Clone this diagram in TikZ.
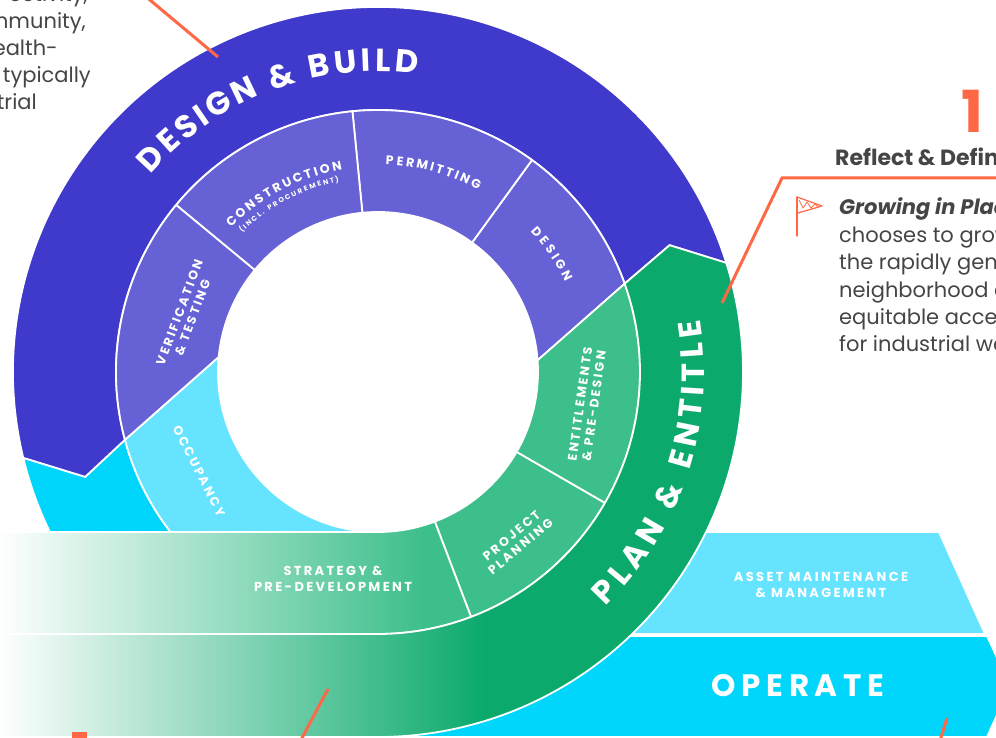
\documentclass[tikz,border=0pt]{standalone}
\usepackage{fontspec}
\setmainfont{Poppins}
\newfontfamily\trackfont[LetterSpace=18]{Poppins}

\definecolor{buildblue}{HTML}{3F3ACB}
\definecolor{buildlight}{HTML}{6662D6}
\definecolor{operatecyan}{HTML}{00D6FB}
\definecolor{operatelight}{HTML}{66E4FF}
\definecolor{plangreen}{HTML}{0BAA6C}
\definecolor{planlight}{HTML}{3DBF8B}
\definecolor{callout}{HTML}{FF6845}
\definecolor{bodygray}{HTML}{454545}

\pgfdeclarehorizontalshading{planfade}{100bp}{color(0bp)=(white); color(25bp)=(white); color(57bp)=(plangreen); color(100bp)=(plangreen)}
\pgfdeclarehorizontalshading{strategyfade}{100bp}{color(0bp)=(white); color(25bp)=(white); color(70bp)=(planlight); color(100bp)=(planlight)}

\tikzset{
  ringpart/.style={draw=white, line width=1.8pt},
  bigletter/.style={text=white, font=\bfseries\fontsize{32}{32}\selectfont, inner sep=0pt, text height=22.4pt, text depth=0pt},
  smallletter/.style={text=white, font=\bfseries\fontsize{12.5}{12.5}\selectfont, inner sep=0pt, text height=8.75pt, text depth=0pt},
  tinyletter/.style={text=white, font=\bfseries\fontsize{7}{7}\selectfont, inner sep=0pt, text height=4.9pt, text depth=0pt},
  phase/.style={text=white, font=\trackfont\bfseries\fontsize{12.5}{14}\selectfont, align=center, inner sep=0pt},
  bodytext/.style={text=bodygray, font=\fontsize{21}{27}\selectfont, inner sep=0pt},
  calloutline/.style={callout, line width=3pt},
}

\begin{document}
\begin{tikzpicture}[x=1pt, y=1pt]
\useasboundingbox (0,0) rectangle (996,738);

\path[fill=operatelight, ringpart] (600,206) -- (939,206) -- (985,104) -- (600,104) -- cycle;
\path[fill=operatecyan, ringpart] (390,102) -- (987,102) -- (1010,52) -- (987,1) -- (390,1) -- cycle;

\begin{scope}[shift={(378,366)}]
  \path[fill=operatecyan, ringpart] (193.6:365) arc[start angle=193.6, end angle=272, radius=365]
    -- (272:262) arc[start angle=272, end angle=195, radius=262] -- (199.7:311) -- cycle;
  \path[fill=operatelight, ringpart] (195:262) arc[start angle=195, end angle=272, radius=262]
    -- (272:160) arc[start angle=272, end angle=174.6, radius=160] -- cycle;
  \path[fill=buildblue, ringpart] (17.4:365) arc[start angle=17.4, end angle=193.6, radius=365]
    -- (199.7:311) -- (195:262) arc[start angle=195, end angle=19.7, radius=262] -- (23.5:318) -- cycle;
  \path[fill=buildlight, ringpart] (19.7:262) arc[start angle=19.7, end angle=54, radius=262]
    -- (54:160) arc[start angle=54, end angle=4.2, radius=160] -- cycle;
  \foreach \sa/\sb in {54/95.6, 95.6/140.4}
    \path[fill=buildlight, ringpart] (\sa:262) arc[start angle=\sa, end angle=\sb, radius=262]
      -- (\sb:160) arc[start angle=\sb, end angle=\sa, radius=160] -- cycle;
  \path[fill=buildlight, ringpart] (140.4:262) arc[start angle=140.4, end angle=195, radius=262]
    -- (174.6:160) arc[start angle=174.6, end angle=140.4, radius=160] -- cycle;
  \path[fill=planlight, ringpart] (19.7:262) -- (4.2:160) arc[start angle=4.2, end angle=-30, radius=160]
    -- (-30:262) arc[start angle=-30, end angle=19.7, radius=262] -- cycle;
  \path[fill=planlight, ringpart] (-30:262) arc[start angle=-30, end angle=-69.2, radius=262]
    -- (-69.2:160) arc[start angle=-69.2, end angle=-30, radius=160] -- cycle;
  \path[shade, shading=strategyfade, ringpart] (-69.2:262) arc[start angle=-69.2, end angle=-90, radius=262]
    -- (-380,-262) -- (-380,-160) -- (-90:160) arc[start angle=-90, end angle=-69.2, radius=160] -- cycle;
  \path[shade, shading=planfade, ringpart] (17.4:365) -- (23.5:318) -- (19.7:262)
    arc[start angle=19.7, end angle=-90, radius=262] -- (-380,-262) -- (-380,-365)
    -- (-90:365) arc[start angle=-90, end angle=17.4, radius=365] -- cycle;

  \foreach \ch/\ang [count=\k] in {D/136.8, E/132.2, S/128.0, I/124.6, G/120.8, N/115.5, \&/108.1, B/100.9, U/96.0, I/92.3, L/89.1, D/84.7}
    \node[bigletter, rotate=\ang-90] (build\k) at (\ang:312) {\ch};
  \foreach \ch/\ang [count=\k] in {P/-44.1, L/-39.9, A/-35.5, N/-30.4, \&/-23.0, E/-16.1, N/-11.5, T/-6.8, I/-3.5, T/-0.2, L/3.8, E/7.8}
    \node[bigletter, rotate=\ang+90] (plan\k) at (\ang:315) {\ch};
  \foreach \ch/\ang [count=\k] in {C/134.2, O/130.9, N/127.5, S/124.5, T/121.7, R/118.8, U/115.7, C/112.5, T/109.5, I/107.2, O/104.7, N/101.3}
    \node[smallletter, rotate=\ang-90] (constr\k) at (\ang:210) {\ch};
  \foreach \ch/\ang [count=\k] in {{(}/133.8, I/132.6, N/131.0, C/128.95, L/127.1, {.}/125.8, P/123.3, R/121.4, O/119.4, C/117.3, U/115.3, R/113.3, E/111.5, M/109.4, E/107.4, N/105.4, T/103.5, {)}/102.0}
    \node[tinyletter, rotate=\ang-90] (procure\k) at (\ang:197) {\ch};
  \foreach \ch/\ang [count=\k] in {P/86.8, E/84.0, R/81.2, M/77.9, I/75.2, T/73.0, T/70.3, I/68.1, N/65.7, G/62.4}
    \node[smallletter, rotate=\ang-90] (permit\k) at (\ang:212) {\ch};
  \foreach \ch/\ang [count=\k] in {D/41.5, E/38.4, S/35.5, I/33.1, G/30.5, N/27.0}
    \node[smallletter, rotate=\ang-90] (design\k) at (\ang:212) {\ch};
\end{scope}

\node[phase, rotate=69.5] (verify) at (186,423) {VERIFICATION\\\& TESTING};
\node[phase, rotate=-63] (occupy) at (199,267) {OCCUPANCY};
\node[phase, rotate=82] (entitle) at (587,333) {ENTITLEMENTS\\\& PRE-DESIGN};
\node[phase, rotate=40] (project) at (516,197) {PROJECT\\PLANNING};
\node[phase, font=\trackfont\bfseries\fontsize{13}{15.5}\selectfont] (strategy) at (333,159) {STRATEGY \&\\PRE-DEVELOPMENT};
\node[phase, font=\trackfont\bfseries\fontsize{13}{15.5}\selectfont] (asset) at (821,153) {ASSET MAINTENANCE\\\& MANAGEMENT};
\node[phase, font=\trackfont\bfseries\fontsize{31}{31}\selectfont] (operate) at (798,52) {OPERATE};

\node[bodytext, anchor=base east] (left1) at (88,736) {ectivity,};
\node[bodytext, anchor=base east] (left2) at (86,709) {mmunity,};
\node[bodytext, anchor=base east] (left3) at (58,682) {ealth-};
\node[bodytext, anchor=base east] (left4) at (91,655) {typically};
\node[bodytext, anchor=base east] (left5) at (37,628) {trial};

\node[text=callout, font=\bfseries\fontsize{58}{58}\selectfont, anchor=base, inner sep=0pt] (stepnum) at (972.5,605) {1};
\node[bodytext, font=\bfseries\fontsize{22}{26}\selectfont, anchor=base west] (reflect) at (835,572) {Reflect \& Defin};
\node[bodytext, font=\bfseries\itshape\fontsize{21}{27}\selectfont, anchor=base west] (growing) at (839,523) {Growing in Plac};
\foreach \txt [count=\i] in {chooses to grow, the rapidly gent, neighborhood a, equitable acces, for industrial wo}
  \node[bodytext, anchor=base west] (detail\i) at (839,523-27.4*\i) {\txt};

\draw[callout, line width=1.5pt, line cap=round] (797,541) -- (797,502);
\draw[callout, line width=1.2pt, line join=round] (797,541) -- (822,532) -- (798,525);
\draw[callout, line width=0.8pt] (799,538) -- (803,530) -- (807,536) -- (811,530) -- (815,534) -- (818,531);

\coordinate (buildend) at (218,681);
\coordinate (buildfar) at (138,748);
\coordinate (planend) at (722,435);
\coordinate (planbend) at (782,560);
\coordinate (planfar) at (1005,560);
\coordinate (stratend) at (328,49);
\coordinate (stratfar) at (296.7,-10);
\coordinate (opend) at (947,20);
\coordinate (opfar) at (939,-6);
\draw[calloutline] (buildfar) -- (buildend);
\draw[calloutline] (planend) -- (planbend) -- (planfar);
\draw[calloutline] (stratend) -- (stratfar);
\draw[calloutline] (opend) -- (opfar);
\fill[callout] (72,-2) rectangle (87,6);
\end{tikzpicture}
\end{document}
